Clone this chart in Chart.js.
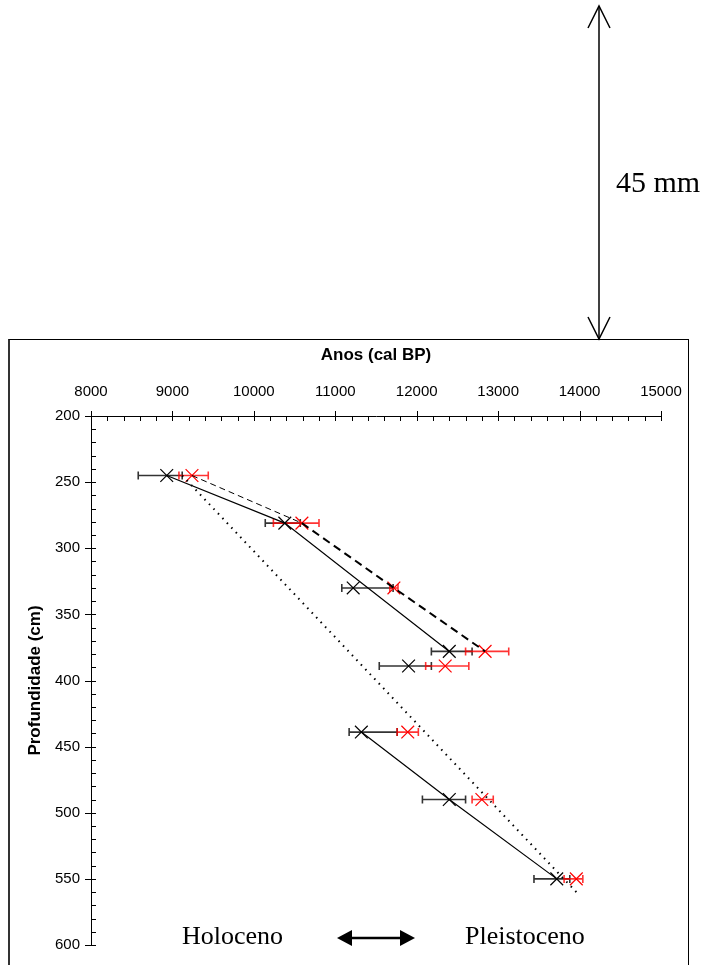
<!DOCTYPE html>
<html lang="pt">
<head>
    <meta charset="UTF-8">
    <title>Profundidade vs Anos</title>
    <script src="https://cdnjs.cloudflare.com/ajax/libs/Chart.js/4.4.0/chart.umd.min.js"></script>
    <style>
        body { margin: 0; width: 709px; height: 965px; overflow: hidden; background: #fff; position: relative; }
        #frame { position: absolute; left: 8px; top: 339px; width: 678px; height: 700px;
                 border: 1px solid #000; border-left: 2px solid #333; }
        #graph { position: absolute; left: 0; top: 0; }
        #deco { position: absolute; left: 0; top: 0; pointer-events: none; }
    </style>
</head>
<body>
    <div id="frame"></div>
    <canvas id="graph" width="709" height="965"></canvas>
    <svg id="deco" width="709" height="965" xmlns="http://www.w3.org/2000/svg">
        <!-- seta vertical 45 mm -->
        <line x1="599" y1="6" x2="599" y2="339" stroke="#000" stroke-width="1.5"/>
        <polyline points="588,28 599,6 610,28" fill="none" stroke="#000" stroke-width="1.5"/>
        <polyline points="588,317 599,339 610,317" fill="none" stroke="#000" stroke-width="1.5"/>
        <text x="616" y="192" font-family="Liberation Serif, 'Times New Roman', serif" font-size="30">45 mm</text>
        <!-- Holoceno / Pleistoceno -->
        <text x="182" y="944" font-family="Liberation Serif, 'Times New Roman', serif" font-size="26">Holoceno</text>
        <text x="465" y="944" font-family="Liberation Serif, 'Times New Roman', serif" font-size="26">Pleistoceno</text>
        <line x1="350" y1="938" x2="402" y2="938" stroke="#000" stroke-width="2.5"/>
        <polygon points="337,938 352,930 352,946" fill="#000"/>
        <polygon points="415,938 400,930 400,946" fill="#000"/>
    </svg>

    <script>
        // profundidade (cm) das amostras
        const depth = [245, 281, 330, 378, 389, 439, 490, 550];

        // idades serie preta (cal BP) + intervalo
        const blackAge = [8930, 10380, 11220, 12400, 11900, 11320, 12400, 13720];
        const blackMin = [8580, 10140, 11080, 12180, 11540, 11170, 12070, 13440];
        const blackMax = [9120, 10570, 11710, 12680, 12180, 11760, 12600, 13880];

        // idades serie vermelha (cal BP) + intervalo
        const redAge = [9240, 10590, 11720, 12840, 12350, 11890, 12800, 13960];
        const redMin = [9080, 10240, 11670, 12600, 12110, 11760, 12680, 13810];
        const redMax = [9440, 10800, 11770, 13130, 12640, 12020, 12940, 14040];

        // quais amostras cada linha liga
        const solidUpper = [0, 1, 3];
        const solidLower = [5, 6, 7];
        const dashThin = [0, 1];
        const dashThick = [1, 2, 3];

        // linha pontilhada (modelo)
        const dottedAge = [9120, 13960];
        const dottedDepth = [245, 560];

        // ticks dos eixos
        const xTicks = [8000, 9000, 10000, 11000, 12000, 13000, 14000, 15000];
        const yTicks = [200, 250, 300, 350, 400, 450, 500, 550, 600];

        function pts(ages, idx) {
            return idx.map(i => ({ x: ages[i], y: depth[i] }));
        }

        // barras de erro horizontais
        const errorBars = {
            id: 'errorBars',
            beforeDatasetsDraw(chart) {
                const ctx = chart.ctx;
                const xs = chart.scales.x, ys = chart.scales.y;
                chart.data.datasets.forEach(ds => {
                    if (!ds.errMin) return;
                    ctx.save();
                    ctx.strokeStyle = ds.errColor;
                    ctx.lineWidth = 1.6;
                    ds.data.forEach((p, i) => {
                        const y = ys.getPixelForValue(p.y);
                        const x1 = xs.getPixelForValue(ds.errMin[i]);
                        const x2 = xs.getPixelForValue(ds.errMax[i]);
                        ctx.beginPath();
                        ctx.moveTo(x1, y); ctx.lineTo(x2, y);
                        ctx.moveTo(x1, y - 4); ctx.lineTo(x1, y + 4);
                        ctx.moveTo(x2, y - 4); ctx.lineTo(x2, y + 4);
                        ctx.stroke();
                    });
                    ctx.restore();
                });
            }
        };

        // marcas dos eixos (maiores cruzam o eixo, menores para dentro)
        const axisTicks = {
            id: 'axisTicks',
            afterDraw(chart) {
                const ctx = chart.ctx;
                const xs = chart.scales.x, ys = chart.scales.y;
                const top = chart.chartArea.top, left = chart.chartArea.left;
                ctx.save();
                ctx.strokeStyle = '#000';
                ctx.lineWidth = 1;
                ctx.beginPath();
                for (let v = xTicks[0]; v <= xTicks[xTicks.length - 1]; v += 200) {
                    const x = Math.round(xs.getPixelForValue(v)) + 0.5;
                    const major = xTicks.includes(v);
                    ctx.moveTo(x, major ? top - 5 : top);
                    ctx.lineTo(x, top + 5);
                }
                for (let v = yTicks[0]; v <= yTicks[yTicks.length - 1]; v += 10) {
                    const y = Math.round(ys.getPixelForValue(v)) + 0.5;
                    const major = yTicks.includes(v);
                    ctx.moveTo(major ? left - 6 : left, y);
                    ctx.lineTo(left + 5, y);
                }
                ctx.stroke();
                ctx.restore();
            }
        };

        const tickFont = { family: 'Liberation Sans, Arial, sans-serif', size: 15 };
        const titleFont = { family: 'Liberation Sans, Arial, sans-serif', size: 17, weight: 'bold' };

        new Chart(document.getElementById('graph'), {
            type: 'scatter',
            data: {
                datasets: [
                    { data: pts(blackAge, solidUpper), showLine: true, borderColor: '#000', borderWidth: 1.2, pointRadius: 0 },
                    { data: pts(blackAge, solidLower), showLine: true, borderColor: '#000', borderWidth: 1.2, pointRadius: 0 },
                    { data: pts(redAge, dashThin), showLine: true, borderColor: '#000', borderWidth: 1, borderDash: [6, 4], pointRadius: 0 },
                    { data: pts(redAge, dashThick), showLine: true, borderColor: '#000', borderWidth: 2, borderDash: [8, 5], pointRadius: 0 },
                    { data: dottedAge.map((a, i) => ({ x: a, y: dottedDepth[i] })), showLine: true, borderColor: '#000',
                      borderWidth: 2, borderDash: [1.5, 5], pointRadius: 0 },
                    { data: depth.map((d, i) => ({ x: blackAge[i], y: d })), errMin: blackMin, errMax: blackMax,
                      errColor: 'rgba(0,0,0,0.8)', pointStyle: 'crossRot', pointRadius: 9, borderColor: '#000',
                      borderWidth: 1.2, backgroundColor: '#000' },
                    { data: depth.map((d, i) => ({ x: redAge[i], y: d })), errMin: redMin, errMax: redMax,
                      errColor: 'rgba(255,0,0,0.8)', pointStyle: 'crossRot', pointRadius: 9, borderColor: '#ff0000',
                      borderWidth: 1.2, backgroundColor: '#ff0000' }
                ]
            },
            options: {
                responsive: false,
                animation: false,
                layout: { padding: { top: 340, left: 0, right: 48, bottom: 18 } },
                plugins: { legend: { display: false }, tooltip: { enabled: false } },
                scales: {
                    x: {
                        type: 'linear', position: 'top', min: 8000, max: 15000,
                        afterFit: s => { s.height = 76; },
                        afterBuildTicks: s => { s.ticks = xTicks.map(v => ({ value: v })); },
                        grid: { display: false, drawTicks: false },
                        border: { display: true, color: '#000', width: 1 },
                        ticks: { color: '#000', font: tickFont, padding: 15, maxRotation: 0, autoSkip: false,
                                 callback: v => String(v) },
                        title: { display: true, text: 'Anos (cal BP)', color: '#000', font: titleFont, padding: { top: 5, bottom: 0 } }
                    },
                    y: {
                        type: 'linear', reverse: true, min: 200, max: 600,
                        afterFit: s => { s.width = 91; },
                        afterBuildTicks: s => { s.ticks = yTicks.map(v => ({ value: v })); },
                        grid: { display: false, drawTicks: false },
                        border: { display: true, color: '#000', width: 1 },
                        ticks: { color: '#000', font: tickFont, padding: 11, autoSkip: false,
                                 callback: v => String(v) },
                        title: { display: true, text: 'Profundidade (cm)', color: '#000', font: titleFont, padding: { top: 25, bottom: 0 } }
                    }
                }
            },
            plugins: [errorBars, axisTicks]
        });
    </script>
</body>
</html>
